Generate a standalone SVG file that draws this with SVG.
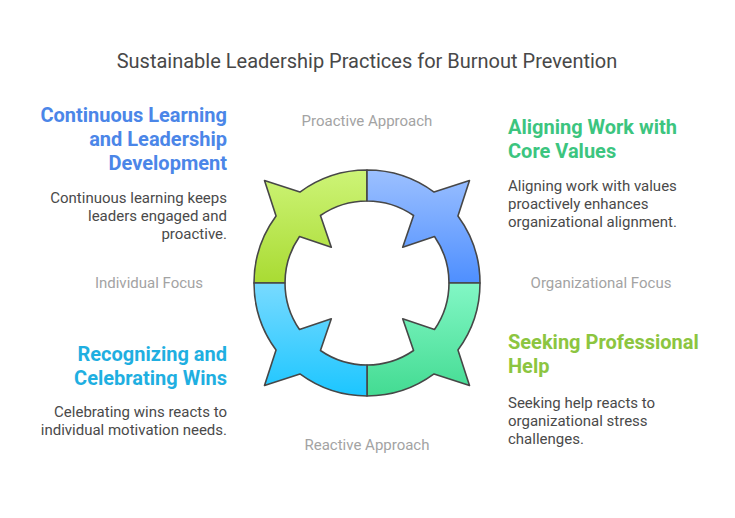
<svg xmlns="http://www.w3.org/2000/svg" width="735" height="518" viewBox="0 0 735 518">
<style>
text { font-family: Roboto, "Liberation Sans", sans-serif; }
.title { font-size: 20px; fill: #484848; text-anchor: middle; }
.axis { font-size: 15px; fill: #a3a3a3; text-anchor: middle; }
.head { font-size: 20px; font-weight: bold; }
.body { font-size: 15px; fill: #4a4a4a; }
.r { text-anchor: end; }
.seg { stroke: #474747; stroke-width: 1.6; stroke-linejoin: round; }
</style>
<defs>
<linearGradient id="gGreen" x1="0" y1="0" x2="0" y2="1"><stop offset="0" stop-color="#cdf477"/><stop offset="1" stop-color="#a9db33"/></linearGradient>
<linearGradient id="gBlue" x1="0" y1="0" x2="0" y2="1"><stop offset="0" stop-color="#9cc0ff"/><stop offset="1" stop-color="#4e8fff"/></linearGradient>
<linearGradient id="gTeal" x1="0" y1="0" x2="0" y2="1"><stop offset="0" stop-color="#82f7c5"/><stop offset="1" stop-color="#43db92"/></linearGradient>
<linearGradient id="gCyan" x1="0" y1="0" x2="0" y2="1"><stop offset="0" stop-color="#78daff"/><stop offset="1" stop-color="#1cc6ff"/></linearGradient>
</defs>
<rect width="735" height="518" fill="#ffffff"/>
<text class="title" x="367" y="68">Sustainable Leadership Practices for Burnout Prevention</text>

<g id="cycle">
<path id="seg-tl" class="seg" fill="url(#gGreen)" d="M 367 170 A 113 113 0 0 0 299.95 192.05 L 264.5 180.5 L 276.05 215.95 A 113 113 0 0 0 254 283 L 285 283 A 82 82 0 0 1 299.5 236.44 L 331.3 247.3 L 320.44 215.5 A 82 82 0 0 1 367 201 Z"/>
<path id="seg-tr" class="seg" fill="url(#gBlue)" d="M 367 170 A 113 113 0 0 1 434.05 192.05 L 469.5 180.5 L 457.95 215.95 A 113 113 0 0 1 480 283 L 449 283 A 82 82 0 0 0 434.5 236.44 L 402.7 247.3 L 413.56 215.5 A 82 82 0 0 0 367 201 Z"/>
<path id="seg-br" class="seg" fill="url(#gTeal)" d="M 367 396 A 113 113 0 0 0 434.05 373.95 L 469.5 385.5 L 457.95 350.05 A 113 113 0 0 0 480 283 L 449 283 A 82 82 0 0 1 434.5 329.56 L 402.7 318.7 L 413.56 350.5 A 82 82 0 0 1 367 365 Z"/>
<path id="seg-bl" class="seg" fill="url(#gCyan)" d="M 367 396 A 113 113 0 0 1 299.95 373.95 L 264.5 385.5 L 276.05 350.05 A 113 113 0 0 1 254 283 L 285 283 A 82 82 0 0 0 299.5 329.56 L 331.3 318.7 L 320.44 350.5 A 82 82 0 0 0 367 365 Z"/>
</g>

<g id="axes">
<text class="axis" x="367" y="126">Proactive Approach</text>
<text class="axis" x="367" y="450">Reactive Approach</text>
<text class="axis" x="149" y="288">Individual Focus</text>
<text class="axis" x="601" y="288">Organizational Focus</text>
</g>

<g id="node-learning">
<text class="head r" fill="#4b86e8"><tspan x="227" y="122">Continuous Learning</tspan><tspan x="227" y="146">and Leadership</tspan><tspan x="227" y="170">Development</tspan></text>
<text class="body r"><tspan x="227" y="203">Continuous learning keeps</tspan><tspan x="227" y="221">leaders engaged and</tspan><tspan x="227" y="239">proactive.</tspan></text>
</g>

<g id="node-values">
<text class="head" fill="#3cc57f"><tspan x="508" y="134">Aligning Work with</tspan><tspan x="508" y="158">Core Values</tspan></text>
<text class="body"><tspan x="508" y="191">Aligning work with values</tspan><tspan x="508" y="209">proactively enhances</tspan><tspan x="508" y="227">organizational alignment.</tspan></text>
</g>

<g id="node-wins">
<text class="head r" fill="#1fafe1"><tspan x="227" y="361">Recognizing and</tspan><tspan x="227" y="385">Celebrating Wins</tspan></text>
<text class="body r"><tspan x="227" y="417">Celebrating wins reacts to</tspan><tspan x="227" y="435">individual motivation needs.</tspan></text>
</g>

<g id="node-help">
<text class="head" fill="#8cc540"><tspan x="508" y="349">Seeking Professional</tspan><tspan x="508" y="373">Help</tspan></text>
<text class="body"><tspan x="508" y="408">Seeking help reacts to</tspan><tspan x="508" y="426">organizational stress</tspan><tspan x="508" y="444">challenges.</tspan></text>
</g>
</svg>
